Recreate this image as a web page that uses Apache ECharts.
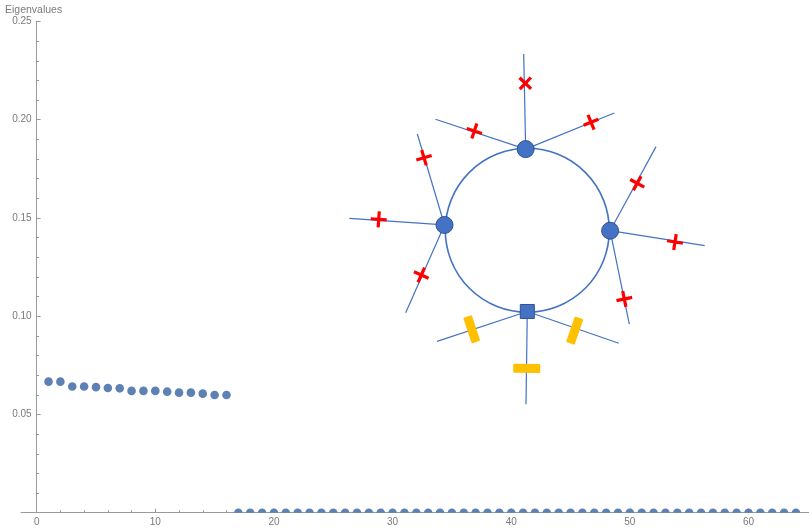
<!DOCTYPE html>
<html>
<head>
<meta charset="utf-8">
<script src="https://cdn.jsdelivr.net/npm/echarts@6/dist/echarts.min.js"></script>
<style>
  html, body { margin: 0; padding: 0; background: #fff; }
  #chart { width: 809px; height: 529px; }
</style>
</head>
<body>
<div id="chart"></div>
<script>
// Eigenvalue spectrum: 16 non-zero modes followed by 48 zero modes
const eigenvalues = [
  0.0667, 0.0667, 0.0642, 0.0642, 0.0639, 0.0635, 0.0633, 0.0620,
  0.0620, 0.0620, 0.0616, 0.0611, 0.0611, 0.0606, 0.0599, 0.0599,
  0, 0, 0, 0, 0, 0, 0, 0, 0, 0, 0, 0, 0, 0, 0, 0,
  0, 0, 0, 0, 0, 0, 0, 0, 0, 0, 0, 0, 0, 0, 0, 0,
  0, 0, 0, 0, 0, 0, 0, 0, 0, 0, 0, 0, 0, 0, 0, 0
];
const xMajorTicks = [0, 10, 20, 30, 40, 50, 60];
const xMinorTicks = [2, 4, 6, 8, 12, 14, 16, 18, 22, 24, 26, 28, 32, 34, 36, 38,
  42, 44, 46, 48, 52, 54, 56, 58, 62, 64];

// Ring diagram (units: ring radius = 1)
const ringJunctions = [[-0.02, 0.99], [-1.01, 0.065], [1.01, -0.005]]; // nodes 0,1,2
const ringTerminal = [[0.0, -0.99]];                                  // node 3
const ringNodes = ringJunctions.concat(ringTerminal);
// spokes: [node index, end x, end y]
const spokes = [
  [0, -0.044, 2.15], [0, -1.12, 1.354], [0, 1.061, 1.43],
  [1, -1.341, 1.174], [1, -2.171, 0.146], [1, -1.483, -1.005],
  [2, 1.570, 1.020], [2, 2.163, -0.188], [2, 1.244, -1.143],
  [3, -1.101, -1.354], [3, -0.016, -2.122], [3, 1.115, -1.378]
];
// markers on spokes: [x, y, spoke index]
const timesMarks = [[-0.024, 1.793, 0]];
const plusMarks = [
  [-0.646, 1.211, 1], [0.777, 1.317, 2], [-1.260, 0.885, 3], [-1.812, 0.134, 4],
  [-1.293, -0.545, 5], [1.341, 0.573, 6], [1.801, -0.143, 7], [1.183, -0.838, 8]
];
const barMarks = [[-0.678, -1.207, 9], [-0.007, -1.683, 10], [0.578, -1.224, 11]];

function spokeAngle(i) {
  const s = spokes[i];
  const n = ringNodes[s[0]];
  return Math.atan2(s[2] - n[1], s[1] - n[0]) * 180 / Math.PI;
}

const AXIS = '#9a9a9a';
const LABEL = '#7a7a7a';
const DOT = '#5E81B5';
const BLUE = '#4472C4';
const PLUS_PATH = 'path://M4,0H6V10H4Z M0,4H10V6H0Z';
const BAR_PATH = 'path://M1.2,0H25.8Q27,0 27,1.2V7.8Q27,9 25.8,9H1.2Q0,9 0,7.8V1.2Q0,0 1.2,0Z';

const X_MIN = -1.32, X_MAX = 65.1;
const PLOT_LEFT = 21, PLOT_WIDTH = 788;
const ZERO_LEFT = PLOT_LEFT + (0 - X_MIN) / (X_MAX - X_MIN) * PLOT_WIDTH;

const chart = echarts.init(document.getElementById('chart'), null, { renderer: 'canvas' });

chart.setOption({
  animation: false,
  backgroundColor: '#ffffff',
  textStyle: { fontFamily: 'Liberation Sans, Arial, sans-serif' },
  title: {
    text: 'Eigenvalues', left: 0, top: 0,
    textStyle: { fontSize: 10.5, fontWeight: 'normal', color: LABEL }
  },
  grid: [
    // main plot: y axis sits at x = 0
    { left: ZERO_LEFT, right: 0, top: 21.5, height: 491.2, containLabel: false, outerBoundsMode: 'none' },
    // ring diagram
    { left: 322.3, top: 25.3, width: 410, height: 410, containLabel: false, outerBoundsMode: 'none' },
    // full x range, including the stretch left of the y axis
    { left: PLOT_LEFT, width: PLOT_WIDTH, top: 21.5, height: 491.2, containLabel: false, outerBoundsMode: 'none' }
  ],
  xAxis: [
    {
      type: 'value', gridIndex: 0, min: 0, max: X_MAX,
      axisLine: { show: false },
      axisTick: { inside: true, length: 4, customValues: xMajorTicks, lineStyle: { color: AXIS } },
      axisLabel: { customValues: xMajorTicks, color: LABEL, fontSize: 10, margin: 5 },
      splitLine: { show: false }
    },
    {
      type: 'value', gridIndex: 1, min: -2.5, max: 2.5, show: false
    },
    {
      type: 'value', gridIndex: 2, min: X_MIN, max: X_MAX, position: 'bottom',
      axisLine: { show: true, onZero: false, lineStyle: { color: AXIS, width: 1 } },
      axisTick: { inside: true, length: 2.5, customValues: xMinorTicks, lineStyle: { color: AXIS } },
      axisLabel: { show: false },
      splitLine: { show: false }
    }
  ],
  yAxis: [
    {
      type: 'value', gridIndex: 0, min: 0, max: 0.25, interval: 0.05,
      axisLine: { show: true, onZero: false, lineStyle: { color: AXIS, width: 1 } },
      axisTick: { show: true, inside: true, length: 4, lineStyle: { color: AXIS } },
      minorTick: { show: true, splitNumber: 5, length: 2.5, lineStyle: { color: AXIS } },
      axisLabel: {
        color: LABEL, fontSize: 10, margin: 5,
        formatter: function (v) { return v === 0 ? '' : v.toFixed(2); }
      },
      splitLine: { show: false }
    },
    {
      type: 'value', gridIndex: 1, min: -2.5, max: 2.5, show: false
    },
    {
      type: 'value', gridIndex: 2, min: 0, max: 0.25, show: false
    }
  ],
  series: [
    {
      // spectrum dots, clipped at the plot floor
      type: 'custom', xAxisIndex: 0, yAxisIndex: 0, clip: true, z: 3,
      data: eigenvalues.map(function (v, i) { return [i + 1, v]; }),
      renderItem: function (params, api) {
        const p = api.coord([api.value(0), api.value(1)]);
        return { type: 'circle', shape: { cx: p[0], cy: p[1], r: 4.3 }, style: { fill: DOT } };
      }
    },
    {
      // ring
      type: 'custom', xAxisIndex: 1, yAxisIndex: 1, z: 4,
      data: [[0, 0, 1]],
      renderItem: function (params, api) {
        const c = api.coord([api.value(0), api.value(1)]);
        const r = api.size([api.value(2), 0])[0];
        return {
          type: 'circle', shape: { cx: c[0], cy: c[1], r: r },
          style: { fill: 'none', stroke: BLUE, lineWidth: 1.6 }
        };
      }
    },
    {
      type: 'lines', coordinateSystem: 'cartesian2d', xAxisIndex: 1, yAxisIndex: 1, z: 4,
      lineStyle: { color: BLUE, width: 1.2, opacity: 1 },
      data: spokes.map(function (s) {
        const n = ringNodes[s[0]];
        return { coords: [[n[0], n[1]], [s[1], s[2]]] };
      })
    },
    {
      type: 'scatter', xAxisIndex: 1, yAxisIndex: 1, z: 5,
      symbol: 'circle', symbolSize: 17,
      itemStyle: { color: BLUE, borderColor: '#2F528F', borderWidth: 1, opacity: 1 },
      data: ringJunctions
    },
    {
      type: 'scatter', xAxisIndex: 1, yAxisIndex: 1, z: 5,
      symbol: 'rect', symbolSize: 14,
      itemStyle: { color: BLUE, borderColor: '#2F528F', borderWidth: 1, opacity: 1 },
      data: ringTerminal
    },
    {
      type: 'scatter', xAxisIndex: 1, yAxisIndex: 1, z: 6,
      symbol: PLUS_PATH, symbolSize: 16, symbolKeepAspect: true,
      itemStyle: { color: '#FF0000', opacity: 1 },
      data: plusMarks.map(function (m) {
        return { value: [m[0], m[1]], symbolRotate: spokeAngle(m[2]) };
      }).concat(timesMarks.map(function (m) {
        return { value: [m[0], m[1]], symbolRotate: spokeAngle(m[2]) + 45 };
      }))
    },
    {
      type: 'scatter', xAxisIndex: 1, yAxisIndex: 1, z: 6,
      symbol: BAR_PATH, symbolSize: [27, 9],
      itemStyle: { color: '#FFC000', opacity: 1 },
      data: barMarks.map(function (m) {
        return { value: [m[0], m[1]], symbolRotate: spokeAngle(m[2]) + 90 };
      })
    }
  ]
});
</script>
</body>
</html>
